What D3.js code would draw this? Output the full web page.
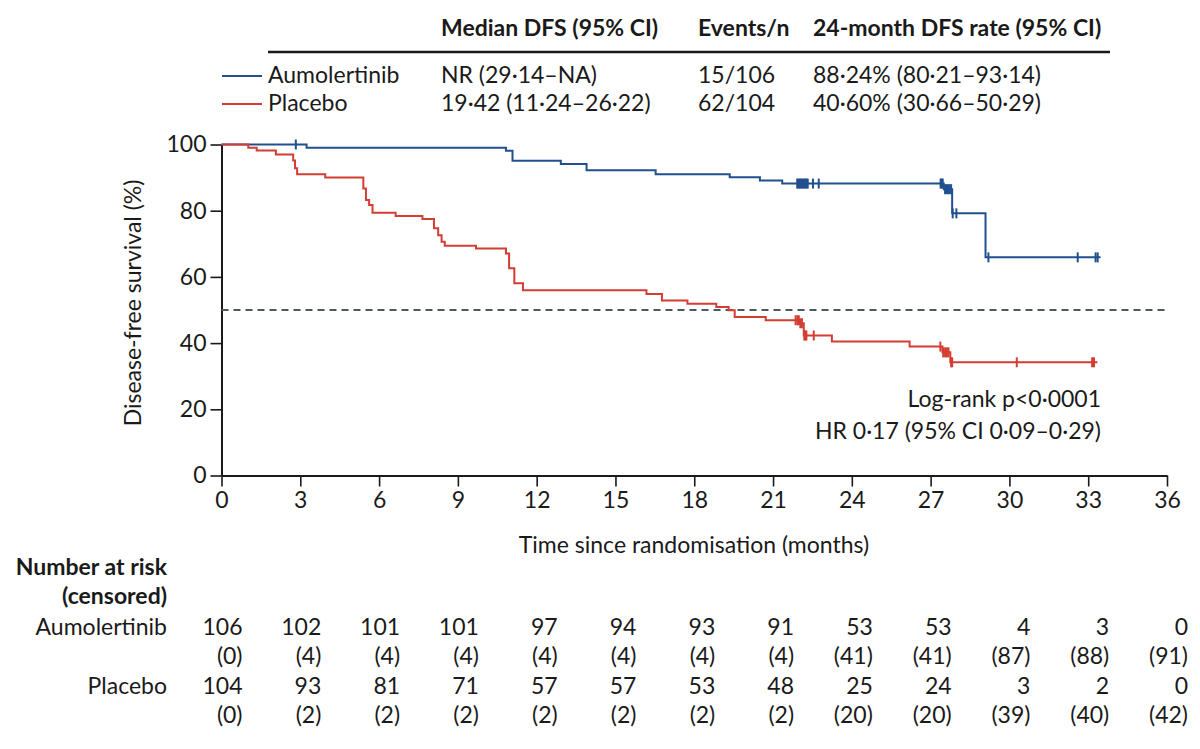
<!DOCTYPE html>
<html>
<head>
<meta charset="utf-8">
<script src="https://cdn.jsdelivr.net/npm/d3@7"></script>
<style>
  body { margin: 0; background: #fff; }
  svg text { font-family: Lato, "Open Sans", sans-serif; fill: #1a1a1a; }
</style>
</head>
<body>
<script>
// table above the chart
var groups = ["Aumolertinib", "Placebo"];
var medianDFS = ["NR (29·14–NA)", "19·42 (11·24–26·22)"];
var eventsN = ["15/106", "62/104"];
var rate24 = ["88·24% (80·21–93·14)", "40·60% (30·66–50·29)"];
var headers = ["Median DFS (95% CI)", "Events/n", "24-month DFS rate (95% CI)"];

// Kaplan-Meier steps (months, % disease-free)
var aumoTimes = [0, 3.24, 10.83, 11.08, 12.92, 13.9, 16.53, 19.35, 20.5, 21.35, 27.5, 27.82, 29.09];
var aumoSurv  = [100, 99.0, 98.1, 95.1, 94.1, 92.2, 91.0, 90.1, 89.1, 88.2, 86.5, 79.2, 65.9];
var aumoEnd = 33.47;
var aumoCensor = [2.83, 21.92, 21.97, 22.02, 22.07, 22.12, 22.17, 22.22, 22.27, 22.32, 22.52, 22.74,
                  27.38, 27.42, 27.46, 27.55, 27.6, 27.66, 27.72, 27.78, 27.84, 27.98, 29.2, 32.6, 33.28, 33.36];

var placTimes = [0, 1.02, 1.34, 2.07, 2.73, 2.8, 2.88, 3.95, 5.4, 5.5, 5.62, 5.75, 6.63, 7.65,
                 8.09, 8.25, 8.38, 8.5, 9.69, 10.83, 10.95, 11.15, 11.48, 16.18, 16.77, 17.74,
                 18.84, 19.31, 19.54, 20.72, 22.0, 22.17, 23.24, 26.2, 27.45, 27.75];
var placSurv  = [100, 99.0, 98.2, 97.0, 95.2, 92.8, 91.0, 90.0, 86.7, 83.2, 81.7, 79.4, 78.4, 77.5,
                 74.7, 72.6, 70.6, 69.4, 68.6, 67.1, 62.6, 58.1, 56.0, 54.8, 52.9, 51.9,
                 50.9, 49.9, 47.9, 46.9, 46.0, 42.3, 40.5, 38.95, 37.2, 34.2];
var placEnd = 33.35;
var placCensor = [21.86, 21.93, 21.98, 22.04, 22.1, 22.19, 22.23, 22.27, 22.55,
                  27.37, 27.48, 27.55, 27.62, 27.68, 27.78, 27.82, 30.28, 33.15, 33.22];

// number at risk table
var riskTimes = [0, 3, 6, 9, 12, 15, 18, 21, 24, 27, 30, 33, 36];
var aumoRisk = [106, 102, 101, 101, 97, 94, 93, 91, 53, 53, 4, 3, 0];
var aumoCens = [0, 4, 4, 4, 4, 4, 4, 4, 41, 41, 87, 88, 91];
var placRisk = [104, 93, 81, 71, 57, 57, 53, 48, 25, 24, 3, 2, 0];
var placCens = [0, 2, 2, 2, 2, 2, 2, 2, 20, 20, 39, 40, 42];

var yTicks = [0, 20, 40, 60, 80, 100];
var colors = ["#21508f", "#d43d33"];

var width = 1200, height = 749, fs = 23;

var svg = d3.select("body").append("svg")
  .attr("width", width)
  .attr("height", height);

var x = d3.scaleLinear().domain([0, 36]).range([221.5, 1167]);
var y = d3.scaleLinear().domain([0, 100]).range([475.5, 144.5]);

// ---- header table
var cols = [441, 698, 813];
svg.selectAll(".hdr")
    .data(headers)
  .enter().append("text")
    .attr("class", "hdr")
    .attr("x", function(d, i) { return cols[i]; })
    .attr("y", 36)
    .style("font-size", fs + "px")
    .style("font-weight", "bold")
    .text(function(d) { return d; });

svg.append("line")
  .attr("x1", 268).attr("x2", 1110)
  .attr("y1", 52).attr("y2", 52)
  .style("stroke", "#1a1a1a")
  .style("stroke-width", 2.5);

groups.forEach(function(g, i) {
  var by = 83 + i * 28;
  svg.append("line")
    .attr("x1", 222).attr("x2", 262)
    .attr("y1", by - 7).attr("y2", by - 7)
    .style("stroke", colors[i])
    .style("stroke-width", 2);
  [g, medianDFS[i], eventsN[i], rate24[i]].forEach(function(t, j) {
    svg.append("text")
      .attr("x", j == 0 ? 268 : cols[j - 1])
      .attr("y", by)
      .style("font-size", fs + "px")
      .text(t);
  });
});

// ---- axes
var yAxis = d3.axisLeft(y).tickValues(yTicks).tickSize(11).tickSizeOuter(0).tickPadding(4);
var xAxis = d3.axisBottom(x).tickValues(riskTimes).tickSize(11).tickSizeOuter(0).tickPadding(5);

var gy = svg.append("g").attr("transform", "translate(" + x(0) + ",0)").call(yAxis);
var gx = svg.append("g").attr("transform", "translate(0," + y(0) + ")").call(xAxis);

[gx, gy].forEach(function(g) {
  g.select(".domain").style("stroke", "#1a1a1a").style("stroke-width", 2);
  g.selectAll(".tick line").style("stroke", "#1a1a1a").style("stroke-width", 1.6);
  g.selectAll(".tick text")
    .style("font-size", fs + "px")
    .style("font-family", "Lato, 'Open Sans', sans-serif")
    .style("fill", "#1a1a1a");
});

svg.append("text")
  .attr("transform", "translate(141,303) rotate(-90)")
  .style("text-anchor", "middle")
  .style("font-size", fs + "px")
  .text("Disease-free survival (%)");

svg.append("text")
  .attr("x", 694).attr("y", 553)
  .style("text-anchor", "middle")
  .style("font-size", fs + "px")
  .text("Time since randomisation (months)");

// 50% reference line
svg.append("line")
  .attr("x1", x(0)).attr("x2", x(36))
  .attr("y1", y(50)).attr("y2", y(50))
  .style("stroke", "#4a5a60")
  .style("stroke-width", 2)
  .style("stroke-dasharray", "7,5");

// ---- curves
var step = d3.line()
  .x(function(d) { return x(d[0]); })
  .y(function(d) { return y(d[1]); })
  .curve(d3.curveStepAfter);

function survAt(times, surv, t) {
  var s = surv[0];
  for (var i = 0; i < times.length; i++) if (times[i] <= t) s = surv[i];
  return s;
}

var series = [
  { times: aumoTimes, surv: aumoSurv, end: aumoEnd, cens: aumoCensor },
  { times: placTimes, surv: placSurv, end: placEnd, cens: placCensor }
];

series.forEach(function(s, i) {
  var pts = s.times.map(function(t, k) { return [t, s.surv[k]]; });
  pts.push([s.end, s.surv[s.surv.length - 1]]);
  svg.append("path")
    .datum(pts)
    .attr("d", step)
    .style("fill", "none")
    .style("stroke", colors[i])
    .style("stroke-width", 2);

  svg.selectAll(".cens" + i)
      .data(s.cens)
    .enter().append("line")
      .attr("class", "cens" + i)
      .attr("x1", function(d) { return x(d); })
      .attr("x2", function(d) { return x(d); })
      .attr("y1", function(d) { return y(survAt(s.times, s.surv, d)) - 5; })
      .attr("y2", function(d) { return y(survAt(s.times, s.surv, d)) + 5; })
      .style("stroke", colors[i])
      .style("stroke-width", 2);
});

// test statistics
svg.append("text")
  .attr("x", 1101).attr("y", 407)
  .style("text-anchor", "end")
  .style("font-size", fs + "px")
  .text("Log-rank p<0·0001");
svg.append("text")
  .attr("x", 1101).attr("y", 439)
  .style("text-anchor", "end")
  .style("font-size", fs + "px")
  .text("HR 0·17 (95% CI 0·09–0·29)");

// ---- number at risk
var lblX = 167;
svg.append("text").attr("x", lblX).attr("y", 575)
  .style("text-anchor", "end").style("font-size", fs + "px").style("font-weight", "bold")
  .text("Number at risk");
svg.append("text").attr("x", lblX).attr("y", 604)
  .style("text-anchor", "end").style("font-size", fs + "px").style("font-weight", "bold")
  .text("(censored)");

var riskRows = [
  { label: groups[0], vals: aumoRisk, paren: false, yb: 635 },
  { label: "", vals: aumoCens, paren: true, yb: 664 },
  { label: groups[1], vals: placRisk, paren: false, yb: 694 },
  { label: "", vals: placCens, paren: true, yb: 723 }
];

riskRows.forEach(function(r) {
  if (r.label) {
    svg.append("text").attr("x", lblX).attr("y", r.yb)
      .style("text-anchor", "end").style("font-size", fs + "px")
      .text(r.label);
  }
  svg.selectAll(null)
      .data(r.vals)
    .enter().append("text")
      .attr("x", function(d, k) { return x(riskTimes[k]) + 21; })
      .attr("y", r.yb)
      .style("text-anchor", "end")
      .style("font-size", fs + "px")
      .text(function(d) { return r.paren ? "(" + d + ")" : d; });
});
</script>
</body>
</html>
